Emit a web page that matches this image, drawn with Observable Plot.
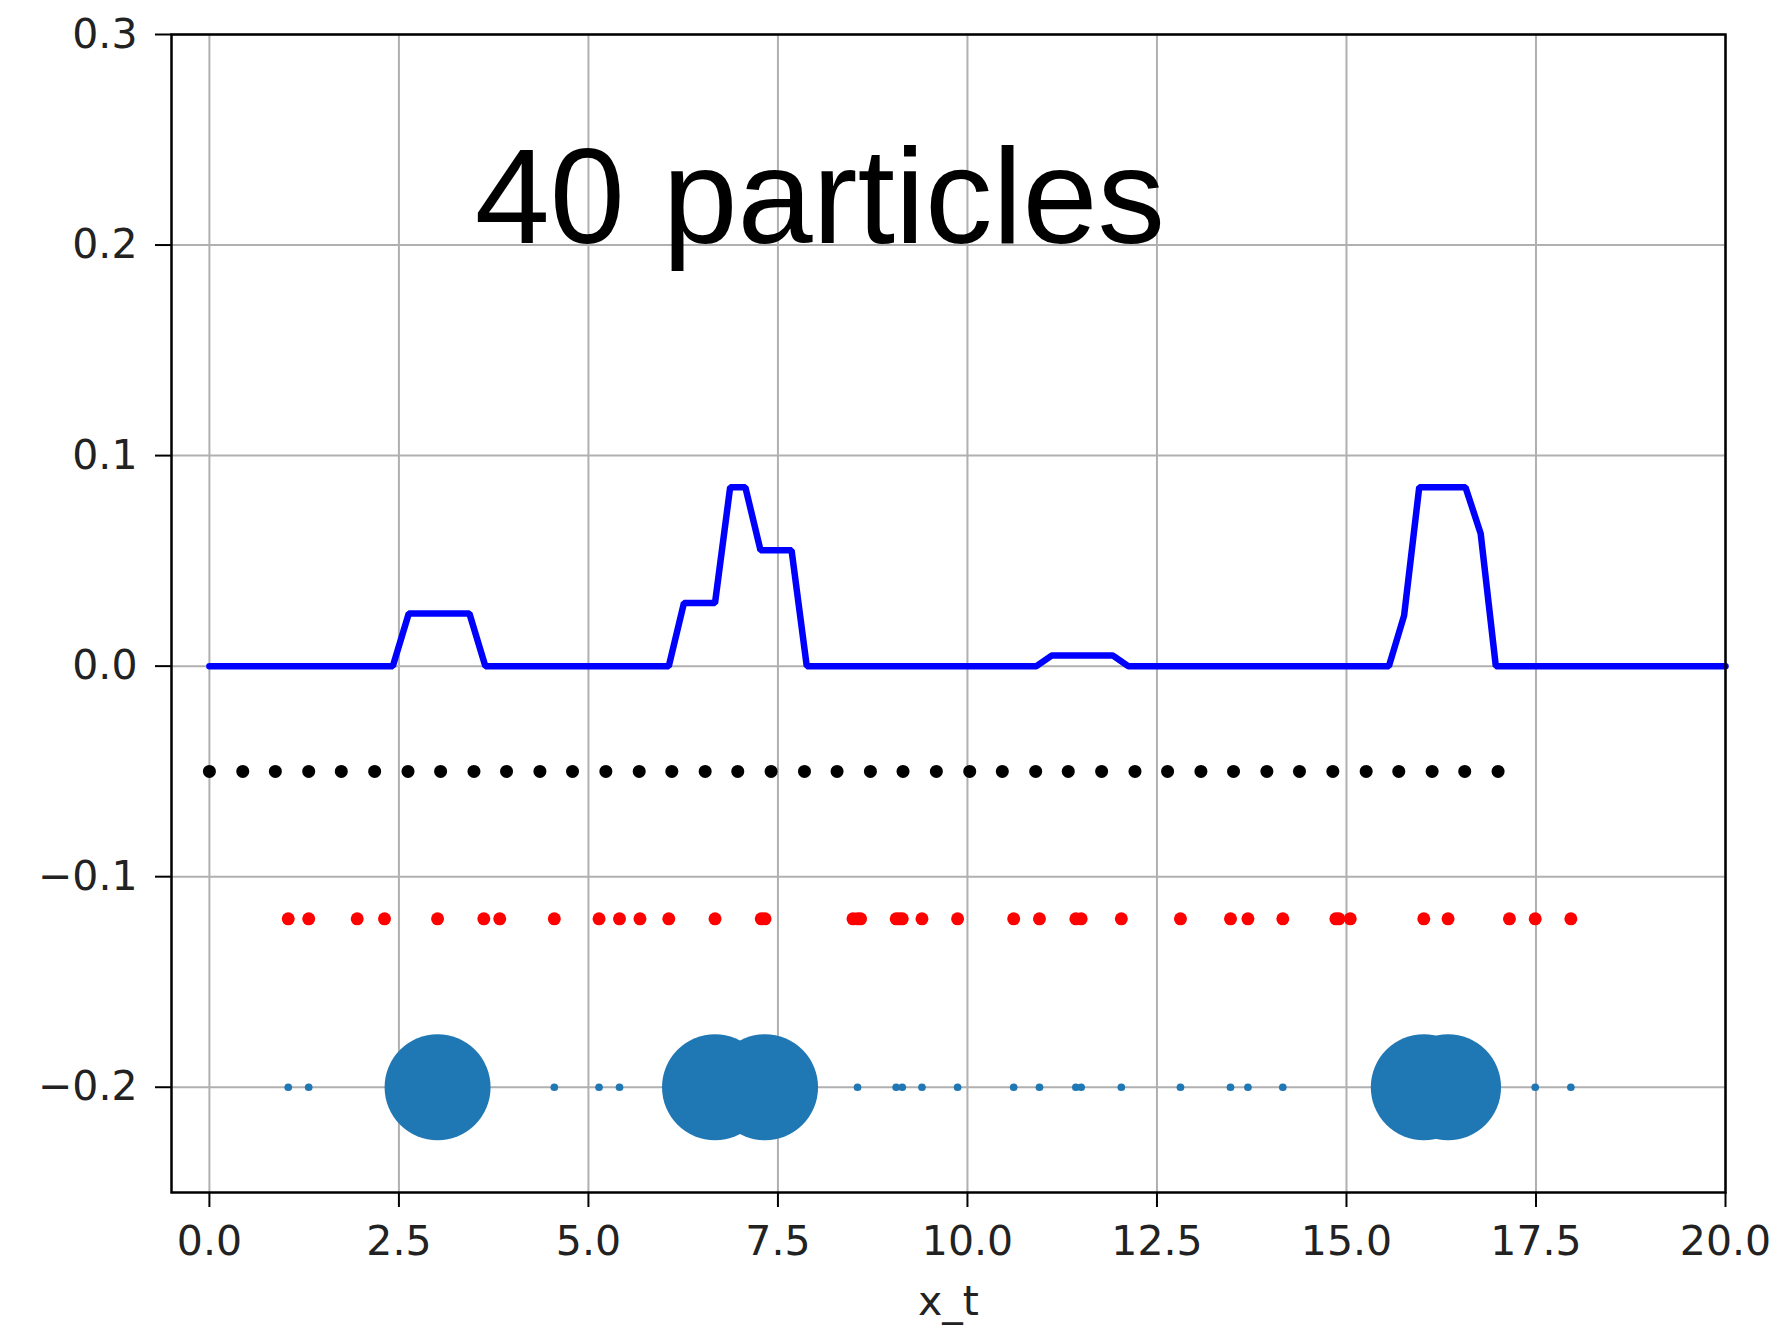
<!DOCTYPE html>
<html>
<head>
<meta charset="utf-8">
<script src="https://cdn.jsdelivr.net/npm/d3@7"></script>
<script src="https://cdn.jsdelivr.net/npm/@observablehq/plot@0.6"></script>
<style>
  html, body { margin: 0; padding: 0; background: white; }
  #chart { width: 1781px; height: 1332px; }
</style>
</head>
<body>
<div id="chart"></div>
<script>
// ---- Data ----
// Blue curve (vertices of the polyline)
const curveX = [0, 2.42, 2.63, 3.43, 3.64, 6.06, 6.26, 6.67, 6.87, 7.07, 7.27, 7.68, 7.88, 10.91, 11.11, 11.92, 12.12, 15.56, 15.76, 15.96, 16.57, 16.77, 16.97, 20];
const curveY = [0, 0, 0.025, 0.025, 0, 0, 0.03, 0.03, 0.085, 0.085, 0.055, 0.055, 0, 0, 0.005, 0.005, 0, 0, 0.024, 0.085, 0.085, 0.063, 0, 0];

// Black row: 40 evenly placed particles
const blackX = [0, 0.44, 0.87, 1.31, 1.74, 2.18, 2.62, 3.05, 3.49, 3.92, 4.36, 4.79, 5.23, 5.67, 6.10, 6.54, 6.97, 7.41, 7.85, 8.28, 8.72, 9.15, 9.59, 10.03, 10.46, 10.90, 11.33, 11.77, 12.21, 12.64, 13.08, 13.51, 13.95, 14.38, 14.82, 15.26, 15.69, 16.13, 16.56, 17.00];
const blackY = -0.05;

// Red row: 40 sampled particles
const redX = [1.04, 1.31, 1.95, 2.31, 3.01, 3.62, 3.83, 4.55, 5.14, 5.41, 5.68, 6.06, 6.67, 7.28, 7.33, 8.49, 8.55, 8.59, 9.06, 9.10, 9.14, 9.40, 9.87, 10.61, 10.95, 11.43, 11.50, 12.03, 12.81, 13.47, 13.70, 14.16, 14.86, 14.90, 15.05, 16.02, 16.34, 17.15, 17.49, 17.96];
const redY = -0.12;

// Blue row: weights of the red particles
const weights = [0.001, 0.001, 0, 0, 0.19, 0, 0, 0.001, 0.001, 0.001, 0, 0, 0.19, 0, 0.19, 0, 0.001, 0, 0.001, 0, 0.001, 0.001, 0.001, 0.001, 0.001, 0.001, 0.001, 0.001, 0.001, 0.001, 0.001, 0.001, 0, 0, 0, 0.19, 0.19, 0, 0.001, 0.001];
const blueY = -0.2;

// Ticks and labels
const xTicks = [0, 2.5, 5, 7.5, 10, 12.5, 15, 17.5, 20];
const yTicks = [0.3, 0.2, 0.1, 0, -0.1, -0.2];
const xLabel = "x_t";
const annotation = [{x: 3.5, y: 0.201, text: "40 particles"}];

// ---- Build tables ----
const curve = curveX.map((x, i) => ({x, y: curveY[i]}));
const black = blackX.map(x => ({x, y: blackY}));
const red = redX.map(x => ({x, y: redY}));
const blue = redX.map((x, i) => ({x, y: blueY, w: weights[i]})).filter(d => d.w > 0);

const fmt = d3.format(".1f");

const chart = Plot.plot({
  width: 1781,
  height: 1332,
  marginLeft: 171,
  marginRight: 56,
  marginTop: 34,
  marginBottom: 140,
  style: {fontFamily: "DejaVu Sans", fontSize: "41px", background: "white", color: "black"},
  x: {domain: [-0.5, 20], axis: null},
  y: {domain: [-0.25, 0.3], axis: null},
  r: {domain: [0, 0.19], range: [0, 53]},
  marks: [
    Plot.gridX(xTicks, {stroke: "#b0b0b0", strokeOpacity: 1, strokeWidth: 2}),
    Plot.gridY(yTicks, {stroke: "#b0b0b0", strokeOpacity: 1, strokeWidth: 2}),
    Plot.line(curve, {x: "x", y: "y", stroke: "#0000ff", strokeWidth: 6.5, strokeLinejoin: "miter"}),
    Plot.dot(black, {x: "x", y: "y", r: 6.5, fill: "black", stroke: "none"}),
    Plot.dot(red, {x: "x", y: "y", r: 6.5, fill: "#ff0000", stroke: "none"}),
    Plot.dot(blue, {x: "x", y: "y", r: "w", fill: "#1f77b4", stroke: "none"}),
    Plot.axisX(xTicks, {tickSize: 15, tickPadding: 18, strokeWidth: 2, tickFormat: fmt, fontSize: 41, fill: "#222", label: null}),
    Plot.axisY(yTicks, {tickSize: 16, tickPadding: 18, strokeWidth: 2, tickFormat: fmt, fontSize: 41, fill: "#222", label: null}),
    Plot.frame({stroke: "black", strokeWidth: 2.5}),
    Plot.text([xLabel], {frameAnchor: "bottom", dy: 122, lineAnchor: "bottom", fontSize: 41, fill: "#222"}),
    Plot.text(annotation, {x: "x", y: "y", text: "text", textAnchor: "start", lineAnchor: "bottom", fontSize: 135, fontFamily: "Liberation Sans", fill: "black"})
  ]
});
document.getElementById("chart").appendChild(chart);
</script>
</body>
</html>
